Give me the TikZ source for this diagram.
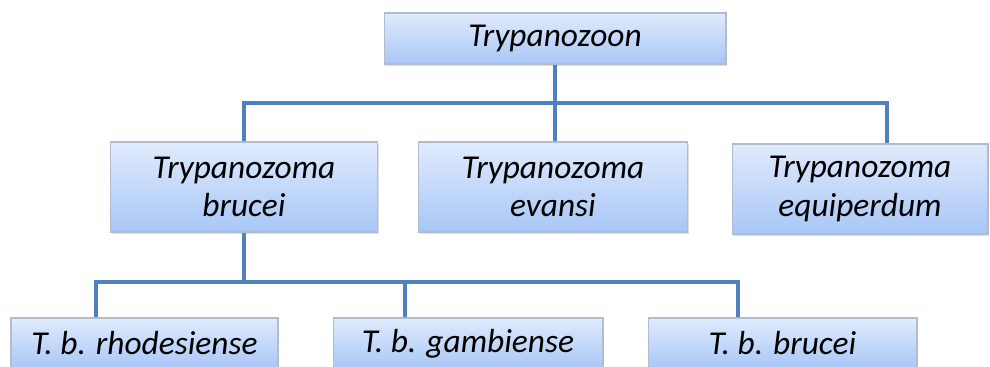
\documentclass[tikz,border=0pt]{standalone}
\usepackage{fontspec}
\setmainfont{Carlito}
\usepackage{tikz}
\usetikzlibrary{positioning,shadows}
\definecolor{boxtop}{RGB}{224,235,253}
\definecolor{boxbot}{RGB}{168,198,246}
\definecolor{boxline}{RGB}{178,188,204}
\definecolor{linkblue}{RGB}{79,129,189}
\tikzset{
  % taxon box
  taxon/.style={
    draw=boxline,
    line width=0.6pt,
    top color=boxtop,
    bottom color=boxbot,
    inner sep=0pt,
    align=center,
    minimum height=1.02cm,
    font=\fontsize{19}{22}\selectfont\itshape,
    drop shadow={opacity=0.25, shadow xshift=0.6pt, shadow yshift=-1.2pt}
  },
  % two-line taxon box
  taxontwo/.style={taxon, minimum height=1.8cm},
  % connector
  link/.style={draw=linkblue, line width=2.3pt},
}
\begin{document}
\begin{tikzpicture}[x=0.02cm, y=-0.02cm]
    \useasboundingbox (0,0) rectangle (990,367);
    \clip (0,0) rectangle (990,367);

    % Subgenus
    \node[taxon, minimum width=6.84cm] (zoon) at (555,38.5) {Trypanozoon};

    % Species
    \node[taxontwo, minimum width=5.34cm] (brucei) at (244,187) {Trypanozoma\\brucei};
    \node[taxontwo, minimum width=5.38cm] (evansi) at (553,187) {Trypanozoma\\evansi};
    \node[taxontwo, minimum width=5.12cm] (equi) at (860,189) {Trypanozoma\\equiperdum};

    % Subspecies
    \node[taxon, minimum width=5.34cm] (rhod) at (144.5,343.5) {T. b. rhodesiense};
    \node[taxon, minimum width=5.40cm] (gamb) at (468,343.5) {T. b. gambiense};
    \node[taxon, minimum width=5.38cm] (tbb) at (782.5,343.5) {T. b. brucei};

    % Joints
    \coordinate (j1) at (555,103);
    \coordinate (j2) at (244,282);

    % Links
    \draw[link] (zoon.south) -- (j1);
    \draw[link] (j1) -| (brucei.north);
    \draw[link] (j1) -- (evansi.north -| j1);
    \draw[link] (j1) -| ([xshift=0.54cm]equi.north);
    \draw[link] (brucei.south) -- (j2);
    \draw[link] (j2) -| ([xshift=-0.97cm]rhod.north);
    \draw[link] (j2) -| ([xshift=-1.26cm]gamb.north);
    \draw[link] (j2) -| ([xshift=-0.89cm]tbb.north);
\end{tikzpicture}
\end{document}
